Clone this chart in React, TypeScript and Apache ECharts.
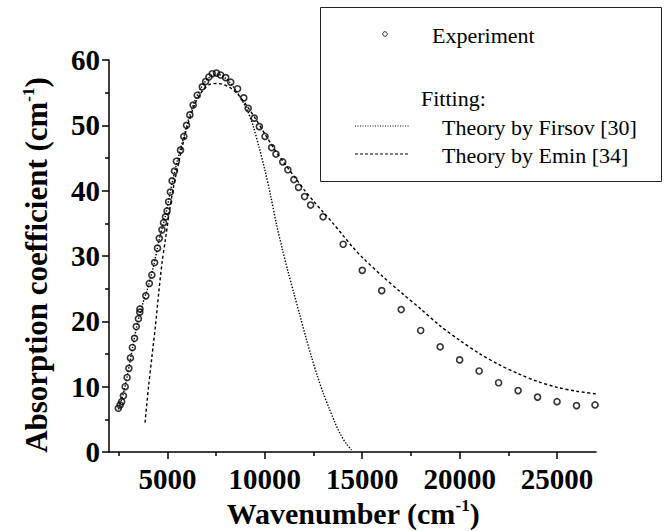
import React, { useEffect, useRef } from 'react';
import * as echarts from 'echarts';

const expX = [2480, 2570, 2650, 2740, 2830, 2930, 3020, 3100, 3200, 3310, 3400, 3510, 3580, 3590, 3890, 4070, 4200, 4340, 4490, 4580, 4720, 4800, 4900, 4980, 5060, 5150, 5240, 5360, 5460, 5670, 5840, 5980, 6150, 6320, 6530, 6790, 6960, 7130, 7300, 7520, 7730, 7990, 8250, 8600, 8920, 9145, 9455, 9720, 10010, 10350, 10570, 10920, 11180, 11490, 11730, 12040, 12350, 12990, 14020, 15000, 16000, 17000, 18000, 19000, 20000, 21000, 22000, 23000, 24000, 25000, 26000, 26950];
const expY = [6.7, 7.2, 7.7, 8.6, 10.0, 11.4, 12.8, 14.4, 16.0, 17.4, 19.2, 20.4, 21.4, 21.9, 23.9, 25.8, 27.1, 29.0, 31.2, 32.7, 34.0, 35.1, 36.0, 36.9, 38.3, 39.8, 41.5, 43.0, 44.5, 46.2, 48.3, 50.0, 51.6, 53.1, 54.6, 55.9, 56.7, 57.4, 57.9, 58.0, 57.7, 57.3, 56.6, 55.6, 54.2, 52.6, 51.1, 49.8, 48.3, 46.6, 45.6, 44.4, 43.2, 41.7, 40.5, 39.1, 37.8, 36.0, 31.8, 27.8, 24.7, 21.8, 18.6, 16.1, 14.1, 12.4, 10.6, 9.4, 8.4, 7.7, 7.1, 7.2];

const firsovX = [2480, 2800, 3100, 3400, 3700, 4000, 4300, 4600, 4900, 5200, 5500, 5800, 6100, 6400, 6700, 7000, 7300, 7600, 7900, 8200, 8500, 8800, 9100, 9400, 9700, 10000, 10300, 10600, 10900, 11200, 11500, 11800, 12100, 12400, 12700, 13000, 13300, 13600, 13900, 14200, 14450];
const firsovY = [6.5, 9.7, 14.2, 18.9, 22.4, 25.2, 28.6, 32.8, 36.2, 40.6, 44.5, 47.8, 51.1, 53.7, 55.6, 56.9, 57.6, 57.8, 57.4, 56.6, 55.4, 54.0, 52.3, 49.9, 46.7, 43.2, 39.2, 34.8, 31.0, 27.5, 24.2, 20.9, 17.6, 14.5, 11.6, 9.0, 6.7, 4.5, 2.6, 1.2, 0.3];

const eminX = [3850, 4030, 4200, 4380, 4550, 4720, 4900, 5100, 5300, 5600, 6000, 6400, 6800, 7200, 7500, 7800, 8200, 8600, 9000, 9500, 10000, 10500, 11000, 11500, 12000, 12500, 13000, 13500, 14000, 14500, 15000, 16000, 17000, 18000, 19000, 20000, 21000, 22000, 23000, 24000, 25000, 26000, 27000];
const eminY = [4.5, 10.0, 14.5, 19.2, 24.3, 28.9, 32.6, 36.8, 40.4, 44.6, 49.6, 53.2, 55.3, 56.3, 56.4, 56.3, 55.8, 54.8, 53.3, 51.1, 48.7, 46.3, 44.2, 42.2, 40.2, 38.4, 36.7, 35.0, 33.2, 31.4, 29.8, 27.0, 24.4, 21.9, 19.3, 17.1, 15.1, 13.4, 12.0, 10.8, 9.9, 9.3, 8.9];

const xMajorValues = [5000, 10000, 15000, 20000, 25000];
const xMinorValues = [2500, 7500, 12500, 17500, 22500];

const legendLabels = ['Experiment', 'Fitting:', 'Theory by Firsov [30]', 'Theory by Emin [34]'];
const xTitle = ['Wavenumber (cm', '-1', ')'];
const yTitle = ['Absorption coefficient (cm', '-1', ')'];

const FONT = 'Liberation Serif';

export default function App() {
  const ref = useRef<HTMLDivElement>(null);
  useEffect(() => {
    document.body.style.margin = '0';
    const chart = echarts.init(ref.current!, null, { renderer: 'svg' });
    const zip = (xs: number[], ys: number[]) => xs.map((x, i) => [x, ys[i]]);
    const titleRich = (size: number) => ({
      a: { fontFamily: FONT, fontWeight: 'bold', fontSize: size, lineHeight: size + 2, fill: '#000' },
      s: { fontFamily: FONT, fontWeight: 'bold', fontSize: Math.round(size * 0.55), lineHeight: Math.round(size * 0.6), verticalAlign: 'top', fill: '#000' },
    });
    chart.setOption({
      animation: false,
      backgroundColor: '#fff',
      grid: { left: 109, right: 73, top: 60, bottom: 79, containLabel: false },
      xAxis: [
        {
          type: 'value', min: 2000, max: 27000,
          axisLine: { show: true, lineStyle: { color: '#000', width: 1.5 } },
          axisTick: { show: true, customValues: xMajorValues, length: 7, lineStyle: { color: '#000', width: 1.5 } },
          axisLabel: { show: true, customValues: xMajorValues, margin: 12, formatter: (v: number) => String(v), fontFamily: FONT, fontWeight: 'bold', fontSize: 29, lineHeight: 29, color: '#000' },
          splitLine: { show: false },
        },
        {
          type: 'value', min: 2000, max: 27000, gridIndex: 0, position: 'bottom',
          axisLine: { show: false },
          axisTick: { show: true, customValues: xMinorValues, length: 4, lineStyle: { color: '#000', width: 1.5 } },
          axisLabel: { show: false },
          splitLine: { show: false },
        },
      ],
      yAxis: {
        type: 'value', min: 0, max: 60, interval: 10,
        axisLine: { show: true, lineStyle: { color: '#000', width: 1.5 } },
        axisTick: { show: true, length: 7, lineStyle: { color: '#000', width: 1.5 } },
        minorTick: { show: true, splitNumber: 2, length: 4, lineStyle: { color: '#000', width: 1.5 } },
        axisLabel: { margin: 9, fontFamily: FONT, fontWeight: 'bold', fontSize: 29, color: '#000' },
        splitLine: { show: false },
      },
      series: [
        {
          name: 'Theory by Firsov [30]', type: 'line', xAxisIndex: 0, data: zip(firsovX, firsovY),
          showSymbol: false, symbol: 'none', smooth: 0.3,
          lineStyle: { color: '#000', width: 1.4, type: [1.4, 1.6] },
        },
        {
          name: 'Theory by Emin [34]', type: 'line', xAxisIndex: 0, data: zip(eminX, eminY),
          showSymbol: false, symbol: 'none', smooth: 0.3,
          lineStyle: { color: '#000', width: 1.4, type: [3, 2.5] },
        },
        {
          name: 'Experiment', type: 'scatter', xAxisIndex: 0, data: zip(expX, expY),
          symbol: 'circle', symbolSize: 6,
          itemStyle: { color: 'rgba(0,0,0,0)', borderColor: '#000', borderWidth: 1.6 },
          z: 5,
        },
      ],
      graphic: [
        { type: 'rect', shape: { x: 320.5, y: 7.5, width: 341, height: 174 }, style: { fill: 'rgba(0,0,0,0)', stroke: '#222', lineWidth: 1 }, z: 10 },
        { type: 'circle', shape: { cx: 385, cy: 34, r: 2.3 }, style: { fill: 'rgba(0,0,0,0)', stroke: '#000', lineWidth: 0.8 }, z: 10 },
        { type: 'text', x: 432, y: 35, style: { text: legendLabels[0], fontFamily: FONT, fontSize: 22, fill: '#000', align: 'left', verticalAlign: 'middle' }, z: 10 },
        { type: 'text', x: 421, y: 98, style: { text: legendLabels[1], fontFamily: FONT, fontSize: 22, fill: '#000', align: 'left', verticalAlign: 'middle' }, z: 10 },
        { type: 'line', shape: { x1: 355, y1: 126, x2: 410, y2: 126 }, style: { stroke: '#000', lineWidth: 1, lineDash: [1, 1.5] }, z: 10 },
        { type: 'text', x: 442, y: 127, style: { text: legendLabels[2], fontFamily: FONT, fontSize: 22, fill: '#000', align: 'left', verticalAlign: 'middle' }, z: 10 },
        { type: 'line', shape: { x1: 355, y1: 154, x2: 410, y2: 154 }, style: { stroke: '#000', lineWidth: 1, lineDash: [3, 2] }, z: 10 },
        { type: 'text', x: 442, y: 155, style: { text: legendLabels[3], fontFamily: FONT, fontSize: 22, fill: '#000', align: 'left', verticalAlign: 'middle' }, z: 10 },
        {
          type: 'text', x: 353, y: 513,
          style: { text: `{a|${xTitle[0]}}{s|${xTitle[1]}}{a|${xTitle[2]}}`, rich: titleRich(30), align: 'center', verticalAlign: 'middle' },
          z: 10,
        },
        {
          type: 'text', x: 36, y: 265, rotation: Math.PI / 2,
          style: { text: `{a|${yTitle[0]}}{s|${yTitle[1]}}{a|${yTitle[2]}}`, rich: titleRich(31), align: 'center', verticalAlign: 'middle' },
          z: 10,
        },
      ],
    });
    return () => chart.dispose();
  }, []);
  return <div ref={ref} style={{ width: 669, height: 531 }} />;
}
